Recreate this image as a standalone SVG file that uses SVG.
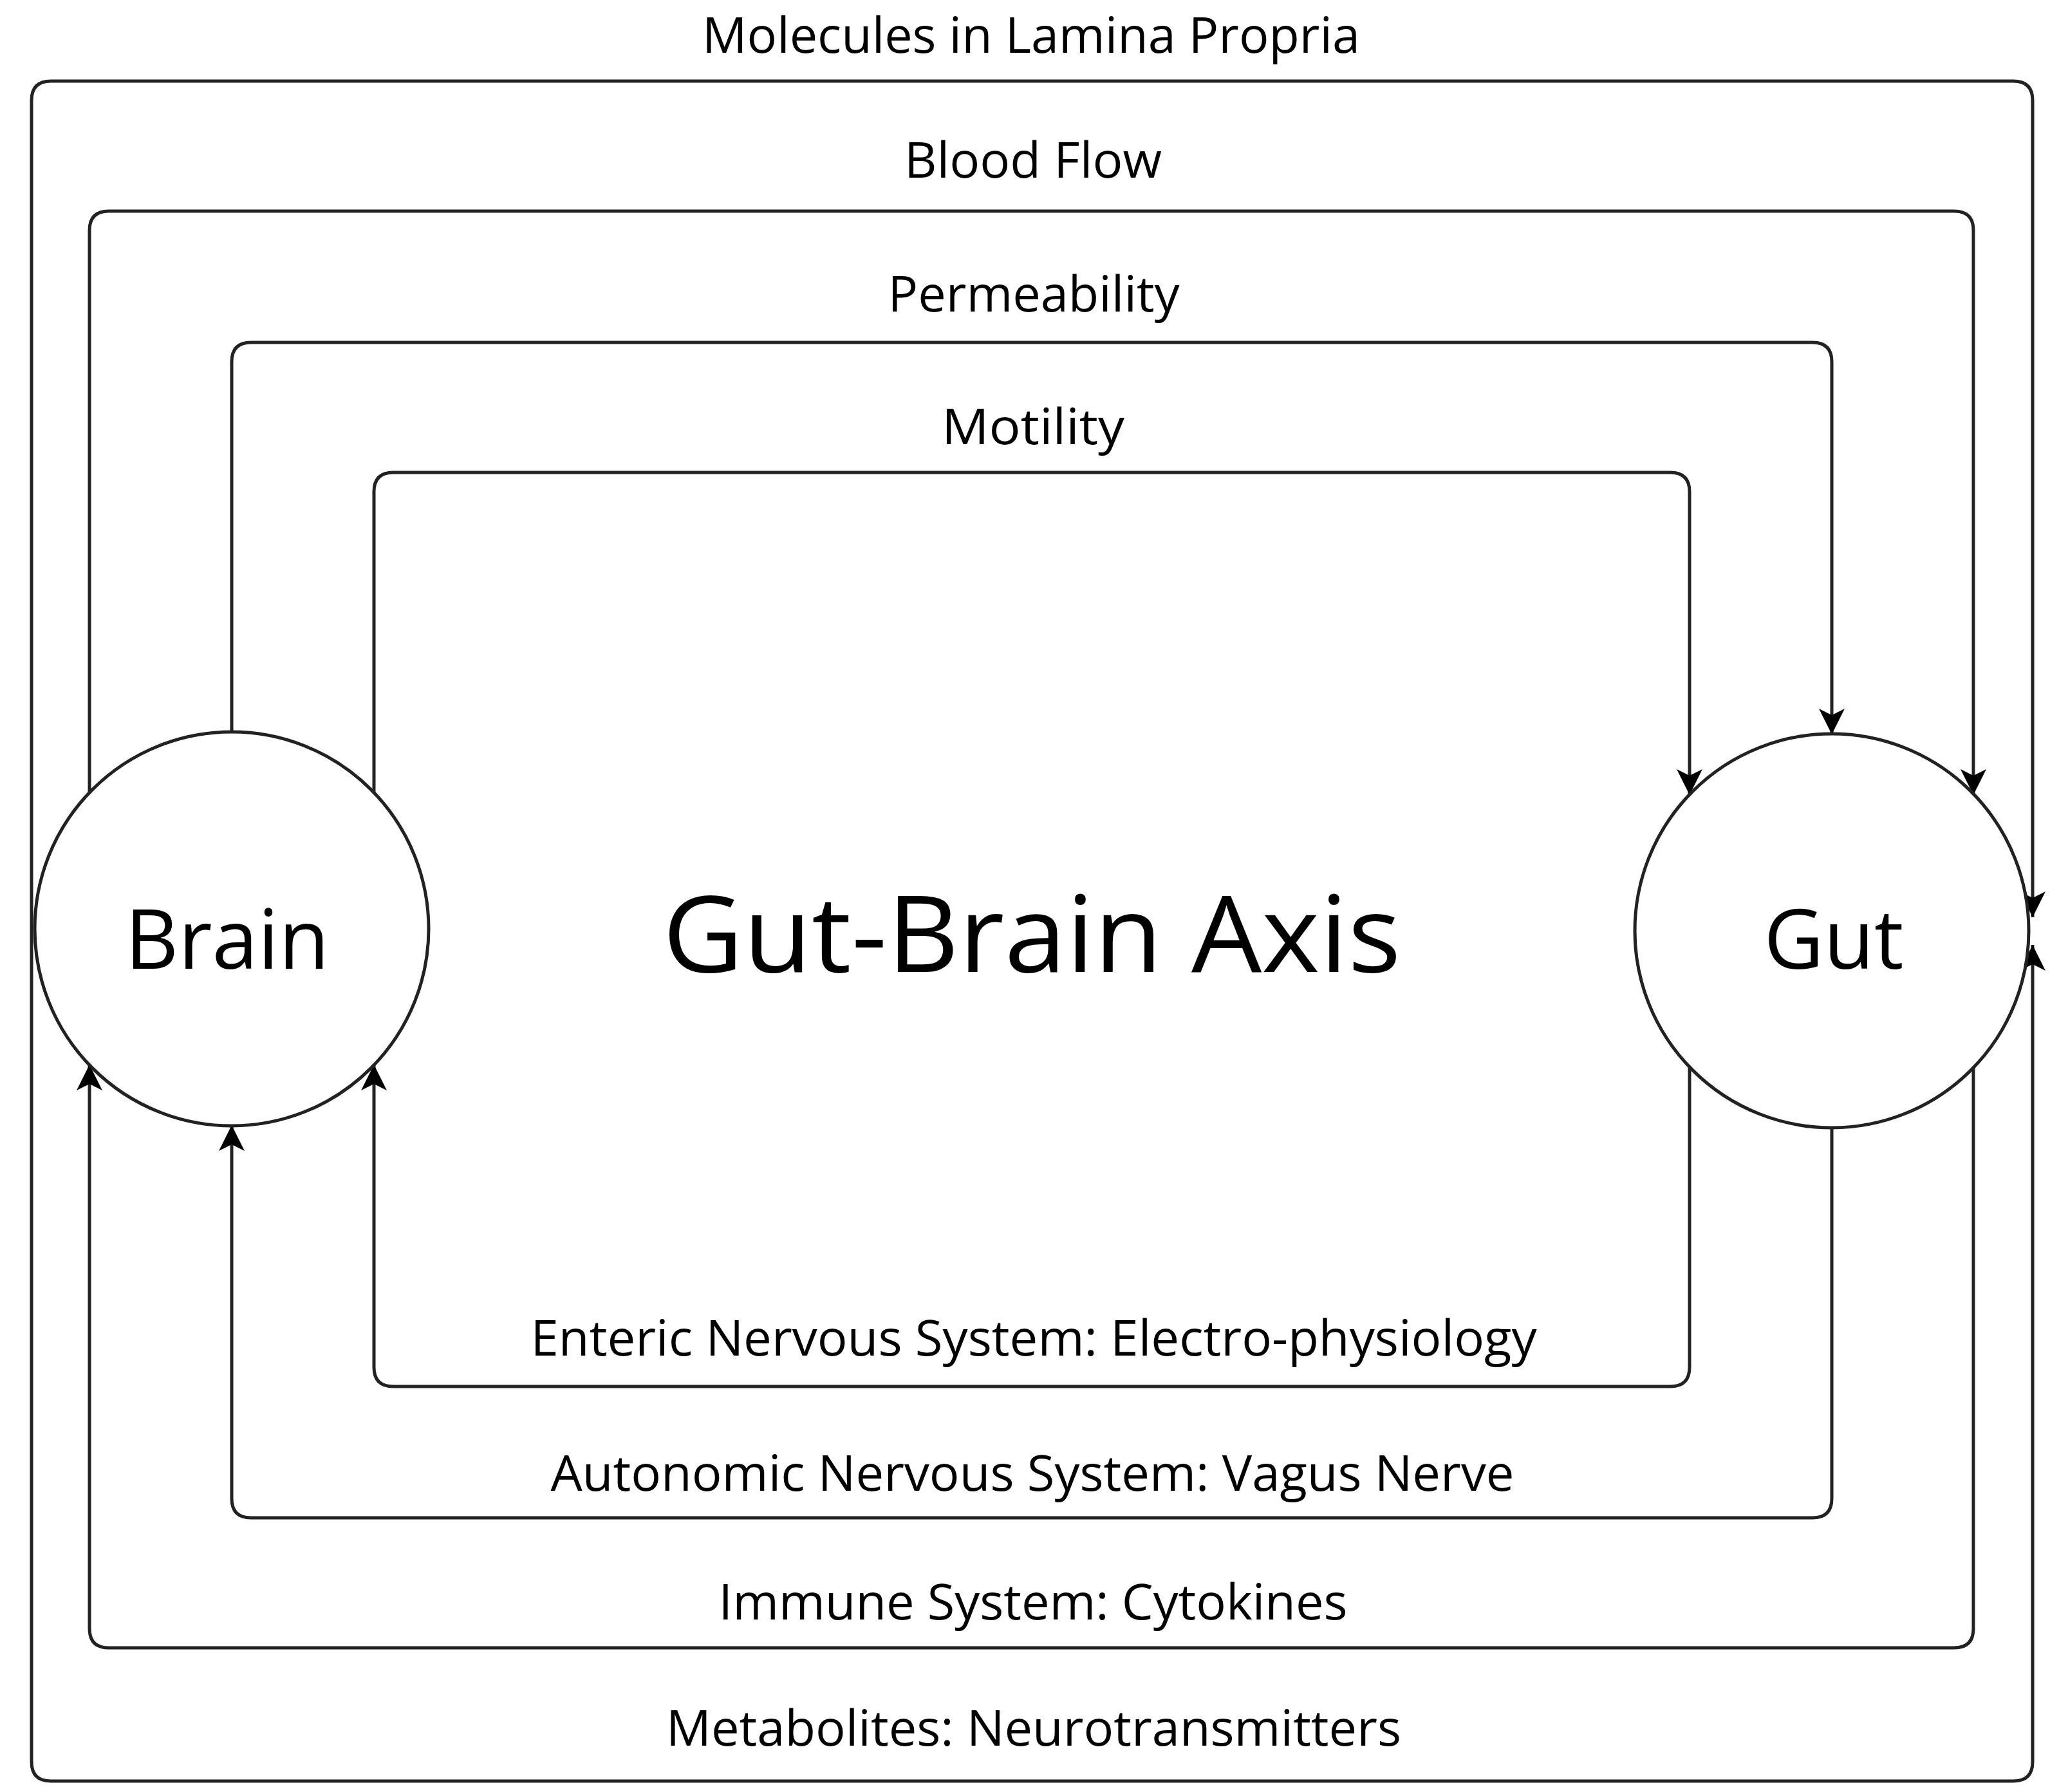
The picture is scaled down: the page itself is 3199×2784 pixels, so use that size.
<svg xmlns="http://www.w3.org/2000/svg" width="3199" height="2784" viewBox="0 0 3199 2784">
<defs>
<style>
.c{fill:none;stroke:#222;stroke-width:5;stroke-linejoin:round}
.n{fill:#fff;stroke:#222;stroke-width:5}
.l{font-family:"Open Sans","Liberation Sans",sans-serif;font-size:76px;fill:#000;text-anchor:middle}
.b{font-family:"Open Sans","Liberation Sans",sans-serif;fill:#000;text-anchor:middle}
</style>
<marker id="a" markerUnits="userSpaceOnUse" markerWidth="50" markerHeight="50" refX="40" refY="20" orient="auto" viewBox="0 0 50 40">
<path d="M0,0 L40,20 L0,40 L10,20 Z" fill="#000"/>
</marker>
</defs>
<rect width="3199" height="2784" fill="#fff"/>
<g id="connectors">
<path class="c" d="M49,1443 V156 Q49,126 79,126 H3128 Q3158,126 3158,156 V1425" marker-end="url(#a)"/>
<path class="c" d="M49,1443 V2737 Q49,2767 79,2767 H3128 Q3158,2767 3158,2737 V1468" marker-end="url(#a)"/>
<path class="c" d="M139,1232 V358 Q139,328 169,328 H3036 Q3066,328 3066,358 V1235" marker-end="url(#a)"/>
<path class="c" d="M360,1138 V562 Q360,532 390,532 H2816 Q2846,532 2846,562 V1141" marker-end="url(#a)"/>
<path class="c" d="M581,1232 V764 Q581,734 611,734 H2595 Q2625,734 2625,764 V1235" marker-end="url(#a)"/>
<path class="c" d="M2625,1657 V2124 Q2625,2154 2595,2154 H611 Q581,2154 581,2124 V1654" marker-end="url(#a)"/>
<path class="c" d="M2846,1751 V2328 Q2846,2358 2816,2358 H390 Q360,2358 360,2328 V1748" marker-end="url(#a)"/>
<path class="c" d="M3066,1657 V2530 Q3066,2560 3036,2560 H169 Q139,2560 139,2530 V1654" marker-end="url(#a)"/>
</g>
<g id="brain"><circle class="n" cx="360" cy="1443" r="306"/><text class="b" x="353" y="1505" font-size="128">Brain</text></g>
<g id="gut"><circle class="n" cx="2846" cy="1446" r="306"/><text class="b" x="2849" y="1505" font-size="128">Gut</text></g>
<g id="title"><text class="b" x="1603" y="1510" font-size="164" textLength="1147" lengthAdjust="spacingAndGlyphs">Gut-Brain Axis</text></g>
<g id="labels">
<text class="l" x="1602" y="82" textLength="1022" lengthAdjust="spacingAndGlyphs">Molecules in Lamina Propria</text>
<text class="l" x="1605" y="276" textLength="400" lengthAdjust="spacingAndGlyphs">Blood Flow</text>
<text class="l" x="1606" y="484" textLength="453" lengthAdjust="spacingAndGlyphs">Permeability</text>
<text class="l" x="1605" y="690" textLength="284" lengthAdjust="spacingAndGlyphs">Motility</text>
<text class="l" x="1606" y="2106" textLength="1563" lengthAdjust="spacingAndGlyphs">Enteric Nervous System: Electro-physiology</text>
<text class="l" x="1604" y="2316" textLength="1497" lengthAdjust="spacingAndGlyphs">Autonomic Nervous System: Vagus Nerve</text>
<text class="l" x="1605" y="2516" textLength="977" lengthAdjust="spacingAndGlyphs">Immune System: Cytokines</text>
<text class="l" x="1606" y="2712" textLength="1142" lengthAdjust="spacingAndGlyphs">Metabolites: Neurotransmitters</text>
</g>
</svg>
